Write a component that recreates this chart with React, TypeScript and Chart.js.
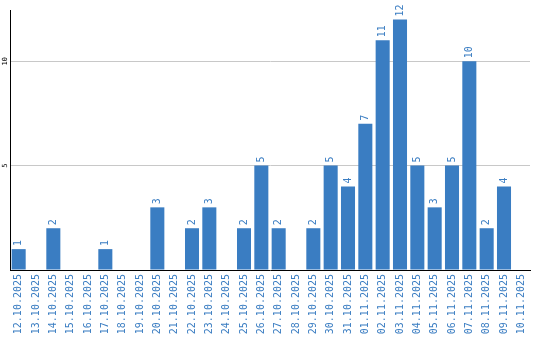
import React, { useEffect, useRef } from "react";
import { Chart, registerables } from "chart.js";

Chart.register(...registerables);

const categories = [
  "12.10.2025", "13.10.2025", "14.10.2025", "15.10.2025", "16.10.2025",
  "17.10.2025", "18.10.2025", "19.10.2025", "20.10.2025", "21.10.2025",
  "22.10.2025", "23.10.2025", "24.10.2025", "25.10.2025", "26.10.2025",
  "27.10.2025", "28.10.2025", "29.10.2025", "30.10.2025", "31.10.2025",
  "01.11.2025", "02.11.2025", "03.11.2025", "04.11.2025", "05.11.2025",
  "06.11.2025", "07.11.2025", "08.11.2025", "09.11.2025", "10.11.2025",
];

const counts = [
  1, 0, 2, 0, 0, 1, 0, 0, 3, 0,
  2, 3, 0, 2, 5, 2, 0, 2, 5, 4,
  7, 11, 12, 5, 3, 5, 10, 2, 4, 0,
];

const yTicks = [5, 10];

const BLUE = "#3a7dc2";
const MONO = "'DejaVu Sans Mono', monospace";

const valueLabels = {
  id: "valueLabels",
  afterDatasetsDraw(chart: any) {
    const ctx = chart.ctx;
    const meta = chart.getDatasetMeta(0);
    ctx.save();
    ctx.fillStyle = BLUE;
    ctx.font = `10px ${MONO}`;
    ctx.textAlign = "left";
    ctx.textBaseline = "middle";
    meta.data.forEach((bar: any, i: number) => {
      const v = counts[i];
      if (!v) return;
      ctx.save();
      ctx.translate(bar.x, bar.y - 3);
      ctx.rotate(-Math.PI / 2);
      ctx.fillText(String(v), 0, 0);
      ctx.restore();
    });
    ctx.restore();
  },
};

const yLabels = {
  id: "yLabels",
  afterDraw(chart: any) {
    const ctx = chart.ctx;
    const y = chart.scales.y;
    ctx.save();
    ctx.fillStyle = "#000";
    ctx.font = `7px ${MONO}`;
    ctx.textAlign = "center";
    ctx.textBaseline = "middle";
    yTicks.forEach((t) => {
      ctx.save();
      ctx.translate(5, y.getPixelForValue(t));
      ctx.rotate(-Math.PI / 2);
      ctx.fillText(String(t), 0, 0);
      ctx.restore();
    });
    ctx.restore();
  },
};

export default function App() {
  const ref = useRef<HTMLCanvasElement>(null);

  useEffect(() => {
    document.body.style.margin = "0";
    const chart = new Chart(ref.current!, {
      type: "bar",
      data: {
        labels: categories,
        datasets: [
          {
            data: counts,
            backgroundColor: BLUE,
            borderWidth: 0,
            barPercentage: 0.81,
            categoryPercentage: 1,
          },
        ],
      },
      options: {
        responsive: false,
        animation: false,
        layout: { padding: { top: 10, right: 10, left: 0, bottom: 0 } },
        plugins: {
          legend: { display: false },
          tooltip: { enabled: false },
        },
        scales: {
          x: {
            grid: { display: false, drawTicks: false },
            border: { display: true, color: "#000", width: 1 },
            ticks: {
              color: BLUE,
              font: { family: MONO, size: 10 },
              minRotation: 90,
              maxRotation: 90,
              autoSkip: false,
              padding: 4,
            },
            afterFit(s: any) {
              s.height = 70;
            },
          },
          y: {
            min: 0,
            max: 12.45,
            afterBuildTicks(s: any) {
              s.ticks = [0, ...yTicks].map((v) => ({ value: v }));
            },
            grid: {
              drawTicks: false,
              color: (c: any) => (c.tick && c.tick.value === 0 ? "rgba(0,0,0,0)" : "#c8c8c8"),
              lineWidth: 1,
            },
            border: { display: true, color: "#000", width: 1 },
            ticks: { display: false },
            afterFit(s: any) {
              s.width = 10;
            },
          },
        },
      },
      plugins: [valueLabels, yLabels],
    });
    return () => chart.destroy();
  }, []);

  return (
    <div style={{ width: 540, height: 340 }}>
      <canvas ref={ref} width={540} height={340} />
    </div>
  );
}
